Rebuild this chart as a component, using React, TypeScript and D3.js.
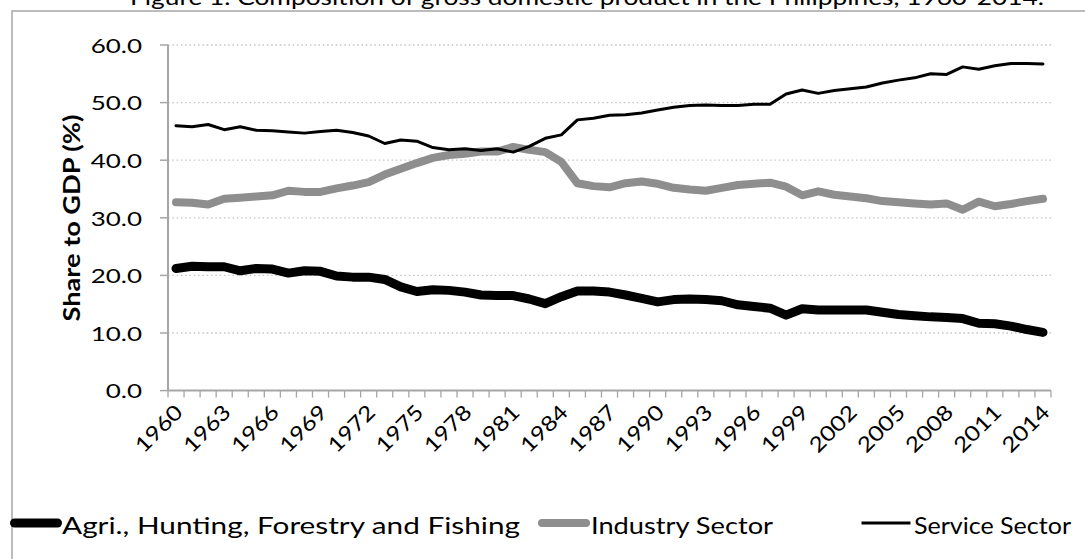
import React from "react";
import * as d3 from "d3";

const years: number[] = d3.range(1960, 2015);
const agri: number[] = [21.2, 21.6, 21.5, 21.5, 20.8, 21.2, 21.1, 20.4, 20.8, 20.7, 19.9, 19.7, 19.7, 19.3, 18.0, 17.2, 17.5, 17.4, 17.1, 16.6, 16.5, 16.5, 15.9, 15.1, 16.3, 17.3, 17.3, 17.1, 16.6, 16.0, 15.4, 15.8, 15.9, 15.8, 15.6, 14.9, 14.6, 14.3, 13.1, 14.2, 14.0, 14.0, 14.0, 14.0, 13.6, 13.2, 13.0, 12.8, 12.7, 12.5, 11.7, 11.6, 11.2, 10.6, 10.1];
const industry: number[] = [32.7, 32.6, 32.3, 33.3, 33.5, 33.7, 33.9, 34.7, 34.5, 34.5, 35.1, 35.6, 36.2, 37.5, 38.5, 39.5, 40.4, 40.9, 41.1, 41.5, 41.5, 42.3, 41.8, 41.4, 39.7, 36.0, 35.5, 35.3, 36.0, 36.3, 35.9, 35.2, 34.9, 34.7, 35.2, 35.7, 35.9, 36.1, 35.4, 33.9, 34.6, 34.0, 33.7, 33.4, 32.9, 32.7, 32.5, 32.3, 32.5, 31.4, 32.8, 32.0, 32.4, 32.9, 33.3];
const service: number[] = [46.0, 45.8, 46.2, 45.3, 45.8, 45.2, 45.1, 44.9, 44.7, 45.0, 45.2, 44.8, 44.2, 42.9, 43.5, 43.3, 42.2, 41.8, 42.0, 41.7, 42.0, 41.4, 42.4, 43.8, 44.4, 47.0, 47.3, 47.8, 47.9, 48.2, 48.7, 49.2, 49.5, 49.6, 49.5, 49.5, 49.7, 49.7, 51.5, 52.2, 51.6, 52.1, 52.4, 52.7, 53.4, 53.9, 54.3, 55.0, 54.9, 56.2, 55.8, 56.4, 56.8, 56.8, 56.7];
const yTicks: number[] = [0, 10, 20, 30, 40, 50, 60];
const xLabelYears: number[] = years.filter((y) => (y - 1960) % 3 === 0);
const seriesNames: string[] = ["Agri., Hunting, Forestry and Fishing", "Industry Sector", "Service Sector"];
const titleText = "Figure 1. Composition of gross domestic product in the Philippines, 1960-2014.";
const yTitle = "Share to GDP (%)";

const FONT = "Lato, sans-serif";

export default function App() {
  const W = 1085, H = 559;
  const x0 = 168, x1 = 1051, yTop = 45, yBot = 390.6;
  const x = d3.scaleBand<number>().domain(years).range([x0, x1]);
  const y = d3.scaleLinear().domain([0, 60]).range([yBot, yTop]);
  const cx = (yr: number) => (x(yr) as number) + x.bandwidth() / 2;
  const line = d3
    .line<number>()
    .x((_, i) => cx(years[i]))
    .y((d) => y(d));

  const series = [
    { name: seriesNames[0], data: agri, color: "#000000", width: 9 },
    { name: seriesNames[1], data: industry, color: "#8e8e8e", width: 8 },
    { name: seriesNames[2], data: service, color: "#000000", width: 3 },
  ];

  const tickXs = years.map((yr) => x(yr) as number).concat([x1]);

  const legendItems = [
    { sym: 10, text: 62, len: 458 },
    { sym: 538, text: 591, len: 182 },
    { sym: 860, text: 914, len: 157 },
  ];

  return (
    <svg
      width={W}
      height={H}
      style={{ position: "absolute", left: 0, top: 0, background: "#fff" }}
      fontFamily={FONT}
    >
      <rect x={0} y={0} width={W} height={H} fill="#fff" />
      {/* title, clipped at top as in the reference */}
      <text x={130} y={5} fontSize={22} fill="#000" textLength={914} lengthAdjust="spacingAndGlyphs">
        {titleText}
      </text>
      {/* chart area border */}
      <rect x={12} y={11} width={W + 20} height={H + 20} fill="none" stroke="#a6a6a6" strokeWidth={1.5} />

      {/* gridlines */}
      {yTicks.filter((t) => t > 0).map((t) => (
        <line key={"g" + t} x1={x0} x2={x1} y1={y(t)} y2={y(t)} stroke="#c4c4c4" strokeWidth={1.3} strokeDasharray="1.5,2.8" />
      ))}
      {/* y axis */}
      <line x1={x0} x2={x0} y1={yTop} y2={yBot} stroke="#a6a6a6" strokeWidth={2} />
      {yTicks.map((t) => (
        <g key={"yt" + t}>
          <line x1={x0 - 8} x2={x0} y1={y(t)} y2={y(t)} stroke="#a6a6a6" strokeWidth={1.5} />
          <text
            transform={`translate(${x0 - 26},${y(t)}) scale(1.3,1)`}
            textAnchor="end"
            dominantBaseline="central"
            fontSize={20}
            fill="#000"
          >
            {t.toFixed(1)}
          </text>
        </g>
      ))}
      {/* x axis */}
      <line x1={x0} x2={x1} y1={yBot} y2={yBot} stroke="#a6a6a6" strokeWidth={2} />
      {tickXs.map((tx, i) => (
        <line key={"xt" + i} x1={tx} x2={tx} y1={yBot} y2={yBot + 7} stroke="#a6a6a6" strokeWidth={1.3} />
      ))}
      {xLabelYears.map((yr) => (
        <text
          key={"xl" + yr}
          transform={`translate(${cx(yr) + 2},${yBot + 17}) rotate(-45)`}
          textAnchor="end"
          dominantBaseline="central"
          fontSize={21}
          fill="#000"
          textLength={57}
          lengthAdjust="spacingAndGlyphs"
        >
          {yr}
        </text>
      ))}
      {/* y title */}
      <text
        transform={`translate(80,${218}) rotate(-90)`}
        textAnchor="middle"
        fontSize={23}
        fontWeight="bold"
        fill="#000"
        textLength={207}
        lengthAdjust="spacingAndGlyphs"
      >
        {yTitle}
      </text>

      {/* lines */}
      {series.map((s) => (
        <path
          key={s.name}
          d={line(s.data) as string}
          fill="none"
          stroke={s.color}
          strokeWidth={s.width}
          strokeLinejoin="round"
          strokeLinecap="round"
        />
      ))}

      {/* legend */}
      {series.map((s, i) => (
        <g key={"lg" + i}>
          <line
            x1={legendItems[i].sym + s.width / 2}
            x2={legendItems[i].sym + 52 - s.width / 2}
            y1={523}
            y2={523}
            stroke={s.color}
            strokeWidth={s.width}
            strokeLinecap={i === 2 ? "butt" : "round"}
          />
          <text
            x={legendItems[i].text}
            y={524}
            dominantBaseline="central"
            fontSize={24}
            fill="#000"
            textLength={legendItems[i].len}
            lengthAdjust="spacingAndGlyphs"
          >
            {s.name}
          </text>
        </g>
      ))}
    </svg>
  );
}
